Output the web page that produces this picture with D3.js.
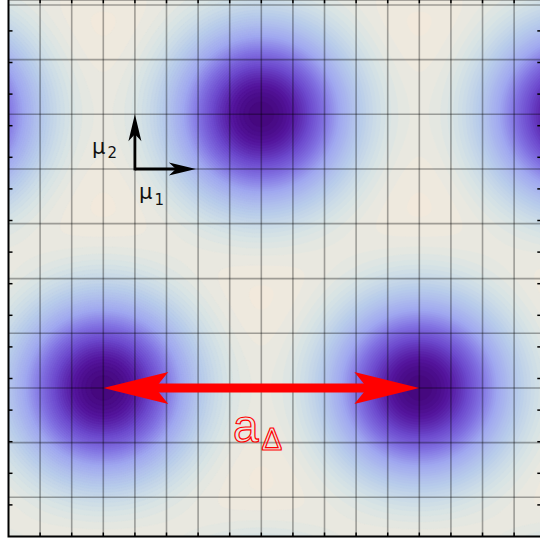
<!DOCTYPE html>
<html>
<head>
<meta charset="utf-8">
<script src="https://cdn.jsdelivr.net/npm/d3@7"></script>
<style>
  html, body { margin: 0; padding: 0; background: #fff; }
  svg { display: block; }
</style>
</head>
<body>
<div id="chart"></div>
<script>
// lattice of density peaks (grid units)
const peakX = [3, 13, -7, 23, -2, 8, 18, -2, 8, 18, 3, 13];
const peakY = [4.7, 4.7, 4.7, 4.7, 13.36, 13.36, 13.36, -3.96, -3.96, -3.96, 22.02, 22.02];
const peakWidth = 1.95;

// grid lines of the mesh
const gridX = [1, 2, 3, 4, 5, 6, 7, 8, 9, 10, 11, 12, 13, 14, 15, 16];
const gridY = [1.24, 2.97, 4.7, 6.43, 8.16, 9.9, 11.63, 13.36, 15.09, 16.82];

// frame ticks
const tickX = [1, 2, 3, 4, 5, 6, 7, 8, 9, 10, 11, 12, 13, 14, 15, 16];
const tickY = [1, 2, 3, 4, 5, 6, 7, 8, 9, 10, 11, 12, 13, 14, 15, 16];

// colour stops of the density map
const stopVal = [0, 0.03, 0.07, 0.14, 0.27, 0.45, 0.6, 0.74, 0.9, 1.0];
const stopCol = ['#f4eed9', '#f2e9dc', '#e9e8e0', '#d6e3e5', '#b9cdea', '#a0a8f0',
                 '#8272e2', '#6c48cc', '#53149c', '#44077c'];

const W = 540, H = 543;
const x = d3.scaleLinear().domain([0, 16.86]).range([8.5, 541.3]);
const y = d3.scaleLinear().domain([0, 17]).range([536.5, -0.7]);

const svg = d3.select('#chart').append('svg')
  .attr('width', W).attr('height', H);

svg.append('defs').append('clipPath').attr('id', 'plotclip')
  .append('rect')
  .attr('x', x(0)).attr('y', y(17))
  .attr('width', x(16.86) - x(0)).attr('height', y(0) - y(17));

const plot = svg.append('g').attr('clip-path', 'url(#plotclip)');

// density field
const nx = 270, ny = 270;
const x0 = 0, x1 = 16.86, y0 = 0, y1 = 17;
const values = new Float64Array(nx * ny);
for (let j = 0; j < ny; j++) {
  const uy = y1 - (j + 0.5) / ny * (y1 - y0);
  for (let i = 0; i < nx; i++) {
    const ux = x0 + (i + 0.5) / nx * (x1 - x0);
    let v = 0;
    for (let k = 0; k < peakX.length; k++) {
      const dx = ux - peakX[k], dy = uy - peakY[k];
      v += Math.exp(-(dx * dx + dy * dy) / (2 * peakWidth * peakWidth));
    }
    values[j * nx + i] = v;
  }
}

const color = d3.scaleLinear().domain(stopVal).range(stopCol)
  .interpolate(d3.interpolateRgb).clamp(true);

const step = 0.02;
const thresholds = d3.range(0, 1.0001, step);
const contours = d3.contours().size([nx, ny]).thresholds(thresholds)(values);

const sx = (x(x1) - x(x0)) / nx, sy = (y(y0) - y(y1)) / ny;
const proj = d3.geoTransform({
  point: function (px, py) { this.stream.point(x(x0) + px * sx, y(y1) + py * sy); }
});
const path = d3.geoPath(proj);

plot.selectAll('path.band')
  .data(contours)
  .enter().append('path')
  .attr('class', 'band')
  .attr('d', path)
  .attr('fill', d => color(d.value + step / 2))
  .attr('stroke', d => color(d.value + step / 2))
  .attr('stroke-width', 0.6);

// mesh
plot.selectAll('line.gx')
  .data(gridX)
  .enter().append('line')
  .attr('x1', d => x(d)).attr('x2', d => x(d))
  .attr('y1', y(0)).attr('y2', y(17))
  .attr('stroke', '#000').attr('stroke-opacity', 0.33).attr('stroke-width', 1.6);

plot.selectAll('line.gy')
  .data(gridY)
  .enter().append('line')
  .attr('y1', d => y(d)).attr('y2', d => y(d))
  .attr('x1', x(0)).attr('x2', x(16.86))
  .attr('stroke', '#000').attr('stroke-opacity', 0.33).attr('stroke-width', 1.6);

// frame
svg.append('rect')
  .attr('x', x(0)).attr('y', y(17))
  .attr('width', x(16.86) - x(0)).attr('height', y(0) - y(17))
  .attr('fill', 'none').attr('stroke', '#000').attr('stroke-width', 2);

const tl = 4;
const ticks = svg.append('g').attr('stroke', '#000').attr('stroke-width', 1.5);
tickX.forEach(t => {
  ticks.append('line').attr('x1', x(t)).attr('x2', x(t)).attr('y1', y(0)).attr('y2', y(0) - tl);
  ticks.append('line').attr('x1', x(t)).attr('x2', x(t)).attr('y1', y(17)).attr('y2', y(17) + tl);
});
tickY.forEach(t => {
  ticks.append('line').attr('y1', y(t)).attr('y2', y(t)).attr('x1', x(0)).attr('x2', x(0) + tl);
  ticks.append('line').attr('y1', y(t)).attr('y2', y(t)).attr('x1', x(16.86)).attr('x2', x(16.86) - tl);
});

// arrow helper: notched head at the end point
function arrowHead(g, tx, ty, ux, uy, len, half, notch, fill) {
  const px = -uy, py = ux;
  const pts = [
    [tx, ty],
    [tx - ux * len + px * half, ty - uy * len + py * half],
    [tx - ux * notch, ty - uy * notch],
    [tx - ux * len - px * half, ty - uy * len - py * half]
  ];
  g.append('path').attr('d', 'M' + pts.map(p => p.join(',')).join('L') + 'Z')
    .attr('fill', fill);
}

// basis vectors
const basis = svg.append('g');
const ox = x(4), oy = y(11.63);
const e1x = x(5.93), e2y = y(13.36);
basis.append('line').attr('x1', ox).attr('y1', oy).attr('x2', e1x - 18).attr('y2', oy)
  .attr('stroke', '#000').attr('stroke-width', 2.8);
basis.append('line').attr('x1', ox).attr('y1', oy + 1.4).attr('x2', ox).attr('y2', e2y + 18)
  .attr('stroke', '#000').attr('stroke-width', 2.8);
arrowHead(basis, e1x, oy, 1, 0, 27, 6.5, 20, '#000');
arrowHead(basis, ox, e2y, 0, -1, 27, 6.5, 20, '#000');

const lab2 = svg.append('text').attr('x', 92).attr('y', 154)
  .attr('font-family', 'DejaVu Sans').attr('fill', '#111');
lab2.append('tspan').attr('font-size', 21).text('μ');
lab2.append('tspan').attr('font-size', 15).attr('dx', 2).attr('dy', 4).text('2');

const lab1 = svg.append('text').attr('x', 139).attr('y', 199)
  .attr('font-family', 'DejaVu Sans').attr('fill', '#111');
lab1.append('tspan').attr('font-size', 21).text('μ');
lab1.append('tspan').attr('font-size', 15).attr('dx', 2).attr('dy', 6).text('1');

// lattice spacing arrow
const red = svg.append('g');
const ax0 = x(peakX[0]), ax1 = x(peakX[1]), ay = y(peakY[0]);
red.append('line').attr('x1', ax0 + 50).attr('x2', ax1 - 50).attr('y1', ay).attr('y2', ay)
  .attr('stroke', '#ff0000').attr('stroke-width', 9);
arrowHead(red, ax0, ay, -1, 0, 65, 16, 52, '#ff0000');
arrowHead(red, ax1, ay, 1, 0, 65, 16, 52, '#ff0000');

const labA = svg.append('text').attr('x', 233).attr('y', 442)
  .attr('font-family', 'Liberation Sans').attr('fill', 'none')
  .attr('stroke', '#ff0000').attr('stroke-width', 1.2);
labA.append('tspan').attr('font-size', 46).text('a');
labA.append('tspan').attr('font-size', 31).attr('dx', 3).attr('dy', 8).text('Δ');
</script>
</body>
</html>
